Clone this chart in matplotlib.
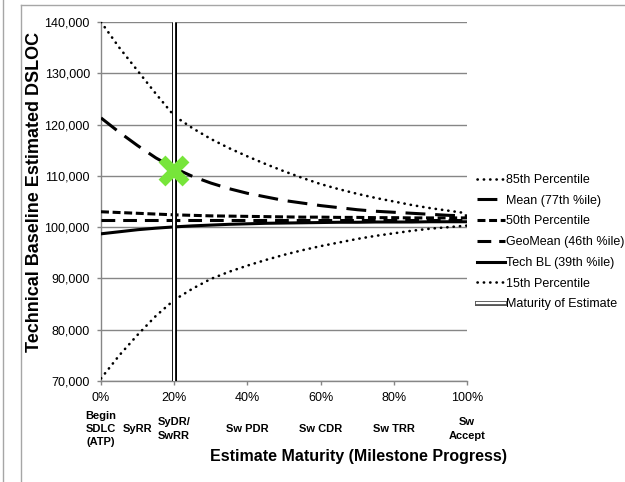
import matplotlib
matplotlib.use("Agg")
import matplotlib.pyplot as plt
import matplotlib.transforms as mtransforms
from matplotlib.lines import Line2D
from matplotlib.ticker import FuncFormatter, PercentFormatter

plt.rcParams['font.family'] = ['Liberation Sans', 'DejaVu Sans']

# Datos (fraccion de avance del hito vs DSLOC)
progreso = [0.0, 0.05, 0.10, 0.15, 0.20, 0.25, 0.30, 0.35, 0.40, 0.45, 0.50,
            0.55, 0.60, 0.65, 0.70, 0.75, 0.80, 0.85, 0.90, 0.95, 1.00]
p85 = [140000, 135000, 130500, 126000, 121700, 119300, 117200, 115400, 113800, 112300, 110900,
       109600, 108400, 107400, 106500, 105700, 105000, 104300, 103700, 103200, 102700]
media = [121300, 118500, 115900, 113500, 111500, 109900, 108600, 107500, 106600, 105900, 105200,
         104700, 104200, 103800, 103400, 103100, 102900, 102700, 102500, 102300, 102200]
p50 = [103000, 102850, 102700, 102550, 102400, 102300, 102200, 102150, 102100, 102050, 102000,
       101950, 101950, 101900, 101900, 101850, 101850, 101800, 101800, 101800, 101800]
geomedia = [101400, 101400, 101400, 101400, 101400, 101400, 101400, 101400, 101400, 101400, 101400,
            101400, 101400, 101400, 101400, 101400, 101400, 101400, 101400, 101400, 101400]
tech_bl = [98700, 99100, 99500, 99800, 100050, 100250, 100400, 100550, 100650, 100750, 100800,
           100850, 100900, 100950, 100950, 101000, 101000, 101000, 101050, 101050, 101050]
p15 = [70500, 75000, 79000, 82700, 85800, 88000, 89900, 91300, 92500, 93600, 94600,
       95500, 96300, 97000, 97700, 98300, 98800, 99300, 99700, 100000, 100300]

madurez_x = 0.20
marca_x, marca_y = 0.20, 111000

hitos_x = [0.0, 0.10, 0.20, 0.40, 0.60, 0.80, 1.00]
hitos_txt = ['Begin\nSDLC\n(ATP)', 'SyRR', 'SyDR/\nSwRR', 'Sw PDR', 'Sw CDR', 'Sw TRR', 'Sw\nAccept']

fig = plt.figure(figsize=(6.25, 4.82), dpi=100)
ax = fig.add_axes([101 / 625, 1 - 381 / 482, 366 / 625, 359 / 482])

gris = '#868686'

# --- Curvas ---
ax.plot(progreso, p85, color='black', lw=1.9, linestyle=(0, (0.1, 2.3)),
        dash_capstyle='round', label='85th Percentile', zorder=4)
ax.plot(progreso, media, color='black', lw=2.2, linestyle=(0, (6.5, 3.2)),
        label='Mean (77th %ile)', zorder=4)
ax.plot(progreso, p50, color='black', lw=2.2, linestyle=(0, (2.6, 1.2)),
        label='50th Percentile', zorder=4)
ax.plot(progreso, geomedia, color='black', lw=2.2, linestyle=(0, (4.5, 2.6)),
        label='GeoMean (46th %ile)', zorder=4)
ax.plot(progreso, tech_bl, color='black', lw=2.2, label='Tech BL (39th %ile)', zorder=4)
ax.plot(progreso, p15, color='black', lw=1.9, linestyle=(0, (0.1, 2.3)),
        dash_capstyle='round', label='15th Percentile', zorder=4)

# Linea doble de madurez del estimado
ax.plot([madurez_x, madurez_x], [70000, 140000], color='black', lw=3.6,
        solid_capstyle='butt', zorder=5)
ax.plot([madurez_x, madurez_x], [70000, 140000], color='white', lw=1.6,
        solid_capstyle='butt', zorder=6)

ax.plot([marca_x], [marca_y], marker='x', color='#77E53A', markersize=17,
        mew=7, zorder=7)

# --- Ejes ---
ax.set_xlim(0, 1)
ax.set_ylim(70000, 140000)
ax.set_xticks([0, 0.2, 0.4, 0.6, 0.8, 1.0])
ax.set_yticks(range(70000, 140001, 10000))
ax.xaxis.set_major_formatter(PercentFormatter(1.0, decimals=0))
ax.yaxis.set_major_formatter(FuncFormatter(lambda v, p: f'{v:,.0f}'))
ax.tick_params(axis='both', labelsize=9, length=3, width=1, color=gris,
               pad=5, labelcolor='black', direction='out')
ax.grid(axis='y', color=gris, lw=1)
ax.set_axisbelow(True)
for lado in ['top', 'right']:
    ax.spines[lado].set_visible(False)
for lado in ['left', 'bottom']:
    ax.spines[lado].set_color(gris)
    ax.spines[lado].set_linewidth(1)

# Etiquetas de hitos debajo de los porcentajes
trans = mtransforms.blended_transform_factory(ax.transData, fig.transFigure)
for hx, ht in zip(hitos_x, hitos_txt):
    ax.text(hx, 1 - 429 / 482, ht, transform=trans, ha='center', va='center',
            fontsize=8, fontweight='bold', linespacing=1.4, multialignment='center')

fig.text(358 / 625, 1 - 457 / 482, 'Estimate Maturity (Milestone Progress)',
         ha='center', va='center', fontsize=11.5, fontweight='bold')
fig.text(35 / 625, 1 - 192 / 482, 'Technical Baseline Estimated DSLOC',
         ha='center', va='center', rotation=90, fontsize=13, fontweight='bold')

# Leyenda
manejadores, etiquetas = ax.get_legend_handles_labels()
doble = (Line2D([], [], color='#555555', lw=3.6), Line2D([], [], color='white', lw=1.6))
manejadores.append(doble)
etiquetas.append('Maturity of Estimate')
fig.legend(manejadores, etiquetas, loc='upper left',
           bbox_to_anchor=(477 / 625, 1 - 174 / 482), frameon=False, fontsize=9,
           handlelength=2.2, handletextpad=0.1, labelspacing=0.7, borderpad=0,
           borderaxespad=0)

# Marco del area del grafico
fig.add_artist(Line2D([20.5 / 625, 20.5 / 625], [0, 1 - 4.5 / 482], color='#a6a6a6', lw=1))
fig.add_artist(Line2D([20.5 / 625, 1], [1 - 4.5 / 482, 1 - 4.5 / 482], color='#a6a6a6', lw=1))
fig.add_artist(Line2D([2.5 / 625, 2.5 / 625], [0, 1], color='#a6a6a6', lw=1))

fig.savefig('out.png', dpi=100)
